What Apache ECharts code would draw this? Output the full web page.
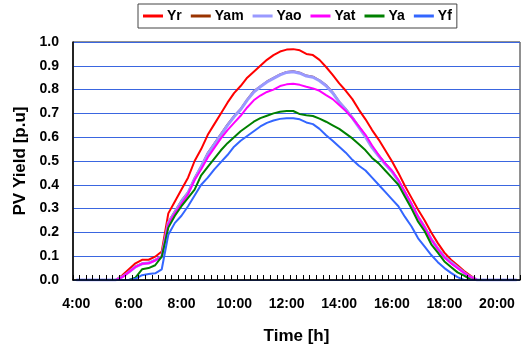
<!DOCTYPE html>
<html>
<head>
<meta charset="utf-8">
<script src="https://cdn.jsdelivr.net/npm/echarts@6/dist/echarts.min.js"></script>
<style>html,body{margin:0;padding:0;background:#fff;}#c{width:523px;height:347px;}</style>
</head>
<body>
<div id="c"></div>
<script>
var categories = ["4:00","4:15","4:30","4:45","5:00","5:15","5:30","5:45","6:00","6:15","6:30","6:45","7:00","7:15","7:30","7:45",
"8:00","8:15","8:30","8:45","9:00","9:15","9:30","9:45","10:00","10:15","10:30","10:45","11:00","11:15","11:30","11:45",
"12:00","12:15","12:30","12:45","13:00","13:15","13:30","13:45","14:00","14:15","14:30","14:45","15:00","15:15","15:30","15:45",
"16:00","16:15","16:30","16:45","17:00","17:15","17:30","17:45","18:00","18:15","18:30","18:45","19:00","19:15","19:30","19:45",
"20:00","20:15","20:30","20:45"];

var Yr = [0,0,0,0,0,0,0,0.02,0.045,0.07,0.085,0.085,0.098,0.12,0.28,0.33,
0.38,0.43,0.50,0.55,0.61,0.655,0.70,0.745,0.785,0.815,0.85,0.875,0.90,0.925,0.945,0.96,
0.968,0.97,0.965,0.95,0.945,0.925,0.895,0.862,0.826,0.795,0.76,0.715,0.675,0.63,0.59,0.545,
0.50,0.45,0.395,0.345,0.295,0.25,0.20,0.155,0.115,0.085,0.062,0.038,0.018,0,0,0,
0,0,0,0];

var Yam = [0,0,0,0,0,0,0,0.015,0.035,0.058,0.07,0.073,0.085,0.10,0.245,0.29,
0.335,0.37,0.43,0.48,0.535,0.575,0.615,0.655,0.69,0.72,0.76,0.795,0.815,0.835,0.85,0.865,
0.875,0.878,0.872,0.86,0.855,0.84,0.82,0.79,0.75,0.72,0.685,0.645,0.605,0.56,0.525,0.49,
0.46,0.42,0.37,0.32,0.268,0.225,0.175,0.135,0.10,0.077,0.055,0.033,0.013,0,0,0,
0,0,0,0];

var Yao = [0,0,0,0,0,0,0,0.013,0.033,0.055,0.068,0.071,0.083,0.098,0.24,0.285,
0.33,0.366,0.425,0.476,0.53,0.57,0.61,0.65,0.686,0.716,0.756,0.79,0.812,0.832,0.847,0.862,
0.872,0.875,0.869,0.857,0.852,0.837,0.816,0.786,0.747,0.716,0.681,0.641,0.601,0.556,0.521,0.486,
0.456,0.416,0.366,0.316,0.264,0.221,0.171,0.132,0.097,0.075,0.053,0.031,0.012,0,0,0,
0,0,0,0];

var Yat = [0,0,0,0,0,0,0,0.012,0.033,0.055,0.068,0.07,0.082,0.098,0.235,0.28,
0.32,0.36,0.42,0.465,0.515,0.555,0.595,0.63,0.66,0.69,0.725,0.755,0.775,0.79,0.80,0.815,
0.822,0.825,0.82,0.812,0.805,0.795,0.777,0.76,0.735,0.71,0.68,0.645,0.61,0.565,0.525,0.49,
0.46,0.42,0.37,0.32,0.265,0.22,0.17,0.13,0.095,0.07,0.05,0.03,0.012,0,0,0,
0,0,0,0];

var Ya = [0,0,0,0,0,0,0,0,0,0.01,0.045,0.05,0.062,0.098,0.22,0.27,
0.31,0.345,0.38,0.44,0.475,0.51,0.545,0.575,0.60,0.625,0.645,0.665,0.68,0.69,0.70,0.707,
0.71,0.71,0.697,0.692,0.689,0.678,0.665,0.65,0.635,0.615,0.595,0.57,0.545,0.513,0.49,0.46,
0.43,0.40,0.35,0.30,0.245,0.205,0.15,0.115,0.078,0.055,0.032,0.018,0.002,0,0,0,
0,0,0,0];

var Yf = [0,0,0,0,0,0,0,0,0,0.005,0.02,0.025,0.028,0.045,0.19,0.24,
0.27,0.31,0.355,0.40,0.43,0.465,0.495,0.525,0.56,0.585,0.605,0.625,0.645,0.66,0.67,0.677,
0.68,0.68,0.675,0.662,0.655,0.635,0.608,0.585,0.56,0.535,0.505,0.48,0.46,0.43,0.40,0.37,
0.34,0.31,0.265,0.225,0.175,0.14,0.105,0.075,0.05,0.03,0.012,0,0,0,0,0,
0,0,0,0];

var seriesNames = ["Yr","Yam","Yao","Yat","Ya","Yf"];
var seriesData = [Yr, Yam, Yao, Yat, Ya, Yf];
var seriesColors = ["#ff0000","#993300","#9999ff","#ff00ff","#008000","#3366ff"];
var seriesWidths = [2, 1.5, 3, 2, 2, 2];

var font = "'Liberation Sans', Arial, sans-serif";
var chart = echarts.init(document.getElementById('c'), null, {renderer: 'canvas'});
var option = {
  animation: false,
  backgroundColor: '#ffffff',
  textStyle: {fontFamily: font},
  legend: {
    left: 138, top: 4,
    padding: [5, 5, 5, 5],
    itemGap: 9,
    itemWidth: 20, itemHeight: 3,
    icon: 'rect',
    borderColor: '#444', borderWidth: 1,
    textStyle: {fontFamily: font, fontSize: 14, fontWeight: 'bold', color: '#000', padding: [0,0,0,-1]},
    data: seriesNames
  },
  grid: {left: 73, right: 3, top: 42, bottom: 67, show: true, borderColor: '#222', borderWidth: 1,
    backgroundColor: '#fff', containLabel: false, outerBoundsMode: 'none'},
  xAxis: {
    type: 'category',
    z: 5,
    data: categories,
    boundaryGap: true,
    name: 'Time [h]',
    nameLocation: 'middle',
    nameGap: 48,
    nameTextStyle: {fontFamily: font, fontSize: 17, fontWeight: 'bold', color: '#000'},
    axisLine: {show: true, lineStyle: {color: '#000', width: 1.5}},
    axisTick: {show: true, inside: true, length: 5, interval: 0, alignWithLabel: false, lineStyle: {color: '#000', width: 1}},
    axisLabel: {interval: 7, margin: 17, fontFamily: font, fontSize: 14, fontWeight: 'bold', color: '#000'},
    splitLine: {show: false}
  },
  yAxis: {
    type: 'value',
    min: 0, max: 1, interval: 0.1,
    name: 'PV Yield [p.u]',
    nameLocation: 'middle',
    nameGap: 41,
    nameTextStyle: {fontFamily: font, fontSize: 17, fontWeight: 'bold', color: '#000'},
    axisLine: {show: true, lineStyle: {color: '#000', width: 1.5}},
    axisTick: {show: false},
    axisLabel: {margin: 14, fontFamily: font, fontSize: 14, fontWeight: 'bold', color: '#000',
      formatter: function (v) { return v.toFixed(1); }},
    splitLine: {show: true, lineStyle: {color: '#3a66e0', width: 1}}
  },
  series: seriesNames.map(function (n, i) {
    return {
      name: n, type: 'line', data: seriesData[i],
      symbol: 'none', showSymbol: false, smooth: false,
      itemStyle: {color: seriesColors[i]},
      lineStyle: {color: seriesColors[i], width: seriesWidths[i]}
    };
  })
};
chart.setOption(option);
</script>
</body>
</html>
